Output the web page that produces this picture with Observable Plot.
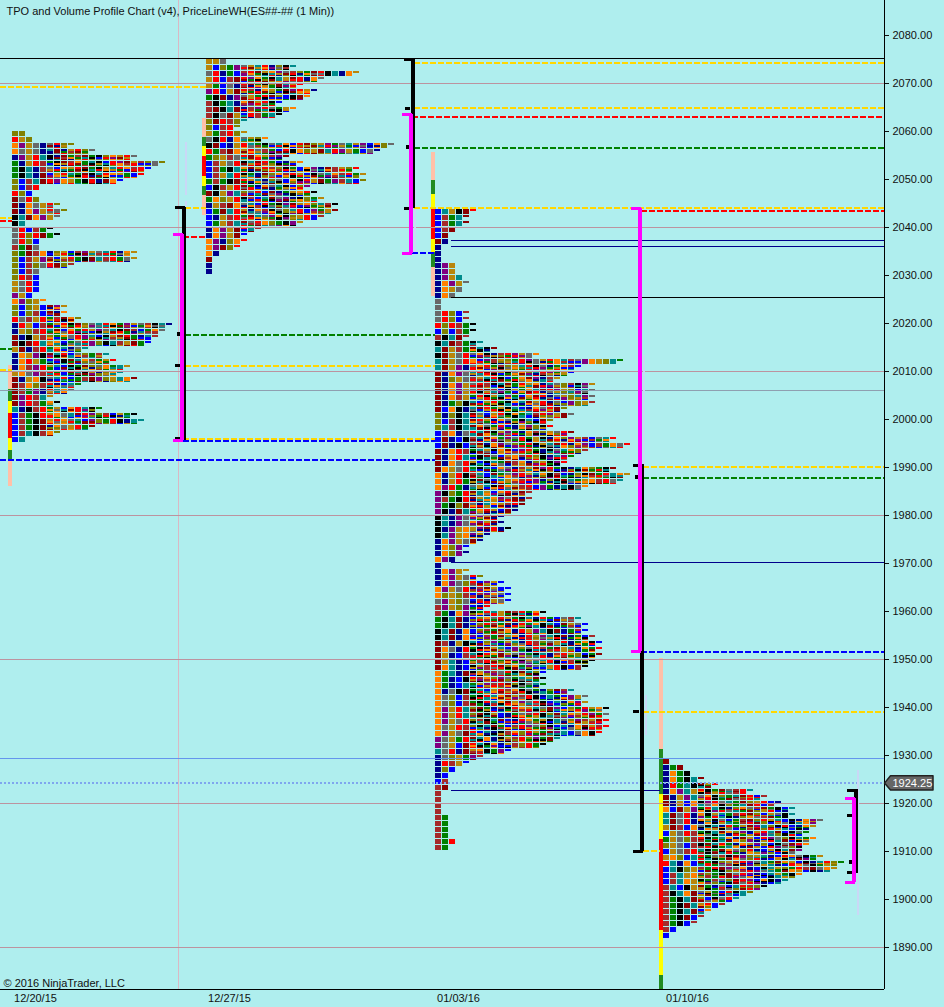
<!DOCTYPE html>
<html><head><meta charset="utf-8">
<script src="https://cdn.jsdelivr.net/npm/d3@7"></script>
<script src="https://cdn.jsdelivr.net/npm/@observablehq/plot@0.6"></script>
<style>html,body{margin:0;padding:0;background:#AFEEEE;overflow:hidden}svg{display:block;background:#AFEEEE}</style>
</head><body><div id="chart"></div>
<script>
// TPO rows: one string per price row, one letter per period letter
const week1Rows=["OO","RGO","APGYNYROO","AYGYNTMNGROY","NPGRTKNMVWMVKOAGRY","VNGRWVKMWAVTKBRPMGWOYO","VKTNWYBAGRMVKGTRAWRB","VKTNMBGRTVMKTRAGVBR","OBWTMRPAGVKRNMAB","OBWR","ROB","MYRO","MNAYGRO","MNAPGRYO","KTMAPGY","KT","YRBWVK","YRORMVK","YROB","WVMY","OVMWANOGBWPGYTRNAG","OBWGPWBGRVKMTWRVYG","OBWOYRMOW","OBWY","ORWB","GYRB","GYRB","PGB","APOGA","OBOGBMPG","OBOWBMNA","RYWGRVWMAO","NRGBWVGRKMOYTRAVPGYWKTN","NGOWRTMBAVRGPYTKMWBVAY","MNKGWOVAYRPTBKGMRVNTW","MKMRTGABVYRPOKTWGMVB","GMNWRVATNYT","NAGPKMTRBYOVWT","NARGVBPKMTAWVGR","NAWPRGTBKVMOYAVTG","GAYPWRVBMTKGNOAT","MNGAKYTRBVWMPOGTAM","MWAOWRNBTV","MWVPNRTAY","MPRWTG","MPRWVAK","TNKWRVGBARTKV","BWVKRGAYTMRPOWBGVK","BWVKMGRAYTBPOVRKNTT","BWVKMNAYGRVM","BWTKWAO","BT"];
const week2Rows=["GGY","GBOVPYGTRNOKT","YRNVBWRMGAPYWOVMRKTNAG","GRBWMRPAVKTGMRNAY","GVBYNRMVKOMTGR","PRBGMRWNAGVMPRGN","VKMNPYGVRMOBKMA","WKVTNAMGRKB","WMKTMNWPRYVGA","WKYMGBRWVTK","OMRWOT","OBWRO","GVWROG","YKRNAYGOA","KMBNGRTVKYTABRMOGPVYTGPBAOY","RVWMAGRYWVBRKAOGMTRPGVBYN","VOGWYRMAGWPM","BWGYRKTMRVBNGA","BWVKTAMGRWOKVBAPNMWGOR","BWGTRKVNMOAWRGBKYTAWRVG","VWVKMRGTNOYBAKRGMVPWTBO","BKWGRMVNAYTKBOP","MKGPTOYRBMNVGARK","VAOGRKWBTMYPNKOVG","NGWMAYTBRVKPMGAOTWK","BVMTRGNAWKYOTRBPVGM","BNGWRVMTYPAKOGRBW","BVGWTMYRAOVKPG","NAPGMRTW","NAPGMB","APNOAR","APMOR","AN","M","N","N"];
const week3Rows=["BTGKMR","BWVTM","BWVTM","BWM","BM","MN","N","N","N","NPG","NPG","NPGT","NAPGY","NAGY","NAY","Y","Y","YROBW","YROBW","RORWVK","BOBWVK","WKTMW","KTMWVKT","TMGWVMTKM","KMGYRYAKNWRPGYA","TMGYRABPWGOVRPYGRATWYPAGOTV","TMGPNYARVWOGTRKYNVAWB","MNAPYTRMWGKYAOTRPVGB","MNOGYWGTRKBVAMPNWG","MNAPGYRWKTMVRGANTYOWKPG","MNAPGYRMWBKGVATMRPGOBTY","MNAWGVRKGTPVBAMRNYGOTPY","MNVOKTBGRVKATMGRNYBPOGW","MBAKNTMRVGKTBNAYRMO","ONOKTMYBGRKAVTWRPGMY","OBWKTMRGNAYVKTBMO","OTWKTMAYVRBNGPOKR","BWANYRTMKGPVNAWOGYRM","BMNBKWTMAVPYRVGKNAOPGWBYTR","BMNKBWMNAPYOVRKGTMRNAPBWVAYR","MNARWVTGKAMBPRVNKYTAOW","MNARTVKMYBGAWROKNTPV","MNAYRGBKTVMWANOGKPR","MAGYRVKTBAYNWGMPRVKNTAOVKM","ANGRKWTBMVYPRGTAKWBNOKMVRTAG","ANGRVKMYBTGAWRPNOKMTVGAWRYT","APRVNYGTKMAGWRBPVNTKYA","PKOVRMTGBARYMW","PWVKRMGTAPYMNW","PVKOMYNTAGWRM","PKNMTVARGBMN","KTNPYAPGMN","KTNPYAPGMN","KNPGAGPMRNK","KTPGAPGN","NAPGYMN","NAOPB","NAOPN","APN","N","NAPGG","NAPGYRO","NAPYORBPGB","APGYRNWMGBB","AOGOWBWPAYB","YPGOYBWNGYB","WPGOPBNR","WVNAPKVRTGMWRVAK","VKTMNBOAYRGVKTNRVBYWT","VKTMNBORWVMNRVAKTBMGYB","KTMNABOWVMANRGPTKMNVWB","KTMNAPBWVMGANRGPTKMNVBW","MWNGKTBOPVGTNRWOYGRNVAKB","MAYNRVKMGTBPOYRWVMGTNAVR","MGNBWTKRAMGYPVKTNWRGOBVM","MGTNBVWROVMPKGYTRNAWVOK","MATNBKGWRMOAVPYTGRKBWK","AVTNMKGPWYRKMTOB","AVNBKRWAOPYVTGMK","AVNBTVGPWRMOKYTV","ANYKMVTBGRWAKYVNOMWT","AYOBWVKRTAMGWRKNTVBPGY","AYOBWVKRTAMGPYRKBTNAPG","APGRTOMVNWKRAGTYMPBOVRGAK","APGRTOMKGBNVYWRKOMTAGRPVY","APGYROWKTMBNRAVGKTYOPWGMR","AYGRWOKTMVBWRPYOKBTNAMGWR","APGYMRBTNKWAORGVMPTBYAKR","PYGVRMTANKGWROPVMT","PYGBMRTKANGWORVK","TYRNMGAKVPB","NYOGVPW","NRWGB","NOB","NB","BW","WM","W","W","W","W","WV","WV","WV","WV","WVR","WV"];
const week4Rows=["M","NVM","NAVK","NAVKTM","NRVTKMGR","NAPTGRKVMYWRT","MNGPTYAKOVTMRBW","MNGBAKPRYTVMOGRBN","ABMGPVRTKNOAYWMVKBT","TMYRNAKGTVWRMOBGYKT","TMYRNAGKYBVWMORGTBKNAPY","GMWBAYKTNRVGMPTOKRBNAG","BGYRWVKTMAOPNGRTMBKYV","VGYOWRKVTANMGBRPYOKTVA","OGYBWKMTRVNAGPOBKYMRA","BGYWRTKVMAYORNBGKTMP","GAOBTRVYWKMPOGTNBRAYKVG","RTNABMVKOGWRPYTVMAGBKNTROV","BTKOGWVRMPYANBKTGOVRWMYAG","BWTGAWOVKMYRPNBTGVKA","BWTAGKVWYOMRPBAKNT","WTBKGMVNYBTRWOK","WKTAMYGVBRKTO","WVKTMOBKYRT","WVKMTGRBW","WVKTMBA","WVKMBW","WVKBW","WB","B"];
const profileStartX=[12,206,435,663];
const profileTopPrice=[2060,2075,2043.75,1929.25];

// Day-value segments beside each profile
const segWeek1=[["peach",2011.25,2006.25],["green",2006.25,2003.75],["yellow",2003.75,2001.25],["red",2001.25,1996],["yellow",1996,1993.5],["green",1993.5,1991.5],["peach",1991.5,1986]];
const segWeek2=[["peach",2062.7,2058.75],["green",2058.75,2056.9],["yellow",2056.9,2054.8],["red",2054.8,2050.6],["yellow",2050.6,2048.5],["green",2048.5,2046.7],["peach",2046.7,2042.5]];
const segWeek3=[["peach",2055.6,2049.8],["green",2049.8,2046.9],["yellow",2046.9,2043.75],["red",2043.75,2037.5],["yellow",2037.5,2034.8],["green",2034.8,2031.7],["peach",2031.7,2025.6]];
const segWeek4=[["peach",1950.2,1931.25],["green",1931.25,1921.9],["yellow",1921.9,1912.5],["red",1912.5,1893.5],["yellow",1893.5,1884.2],["green",1884.2,1881.25]];
const segStartX=[8,202,431,659];

// Range bars [x, high, low]
const blackBars=[[183,2044.2,1995.6],[412,2075,2044],[641,1990.6,1910],[855,1922.9,1905.4]];
const magentaBars=[[181,2038.5,1995.6],[410,2063.5,2034.6],[639,2044,1951.7],[853,1921,1903.5]];
// Range bar caps [x1, x2, price]
const blackCaps=[[175,185,2044.2],[175,181,2011.25],[175,181,1996],[404,414,2075],[405,410,2064.8],[404,410,2044],[633,643,1990.4],[633,639,1939.2],[633,643,1910],[847,857,1922.8],[847,853,1917.5],[847,853,1905.6]];
const blackThickCaps=[[177,185,2017.9],[406,414,2056.7],[635,643,1988.1],[849,857,1907.9]];
const magentaCaps=[[173,183,2038.5],[173,183,1995.6],[402,412,2063.5],[402,412,2034.6],[631,641,2044],[631,641,1951.7],[845,855,1921],[845,855,1903.5]];

// Dashed levels [x1, x2, price]
const yellowLevels=[[0,206,2069.25],[414,884,2074.25],[414,884,2065],[185,206,2044],[414,884,2044],[185,435,2011.25],[183,435,1995.9],[643,884,1990.2],[643,884,1939.1],[643,660,1910.2],[0,12,2041.9],[0,12,2010.4]];
const redLevels=[[412,884,2063],[641,884,2043.5],[183,206,2038],[0,12,2041.4]];
const greenLevels=[[414,884,2056.5],[185,435,2017.6],[643,884,1987.9],[0,12,2014.6]];
const blueLevels=[[412,435,2034.6],[183,435,1995.5],[0,435,1991.5],[641,884,1951.6]];

// Solid levels
const navyLevels=[[451,884,2037.3],[451,884,2036],[451,884,1970.2],[451,660,1922.7]];
const blackLevels=[[0,884,2075.25],[451,884,2025.4]];
const rosyLevels=[2070,2040,2010,1980,1950,1920,1890];
const greyLevels=[2006];
const lightBlueLevels=[1929.4];
const lastPrice=1924.25;

// Faint per-bar volume strips [x, high, low]
const volumeStrips=[[185,2057.7,2046.7],[185,2045.5,2044.3],[414,2047.7,2034.2],[643,2013.3,1985.2],[645,1942.5,1934.2],[857,1926.9,1896.7]];

const priceTicks=[2080,2070,2060,2050,2040,2030,2020,2010,2000,1990,1980,1970,1960,1950,1940,1930,1920,1910,1900,1890];
const dateTickX=[35,229,458,687];
const dateLabels=["12/20/15","12/27/15","01/03/16","01/10/16"];
const sessionLineX=[178];

const palette={O:"#808000",R:"#ff0000",B:"#0000ff",N:"#00008b",W:"#a52a2a",A:"#ff8000",P:"#800080",G:"#b8860b",Y:"#696969",V:"#008000",T:"#008b8b",K:"#000000",M:"#8b0000"};
const segColors={peach:"#ffc0a8",green:"#228b22",yellow:"#ffff00",red:"#ff0000"};

const pxPerPoint=4.8, rowStep=1.25, colStep=7, cellW=6;
const cells=[], stripes=[];
[week1Rows,week2Rows,week3Rows,week4Rows].forEach((rows,pi)=>{
  rows.forEach((row,ri)=>{
    const top=profileTopPrice[pi]-ri*rowStep;
    const next=rows[ri+1]||row, prev=rows[ri-1]||row;
    [...row].forEach((k,c)=>{
      const x1=profileStartX[pi]+c*colStep, x2=x1+cellW;
      const tip=row.length>=5&&c===row.length-1;
      cells.push({x1,x2,y1:top,y2:top-(tip?2:5)/pxPerPoint,k});
      if(c>=5&&!tip){
        stripes.push({x1,x2,y1:top-2.2/pxPerPoint,y2:top-3.6/pxPerPoint,k:next[c+1]||next[c]||k});
        stripes.push({x1,x2,y1:top-3.6/pxPerPoint,y2:top-5/pxPerPoint,k:prev[c-1]||k});
      }
    });
  });
});
const segs=[segWeek1,segWeek2,segWeek3,segWeek4].flatMap((s,i)=>s.map(([k,y1,y2])=>({x1:segStartX[i],x2:segStartX[i]+4,y1,y2,k})));
const crisp={shapeRendering:"crispEdges"};
const level=(arr,stroke,extra={})=>Plot.ruleY(arr,{x1:d=>d[0],x2:d=>d[1],y:d=>d[2],stroke,...crisp,...extra});
const dashed={strokeWidth:2,strokeDasharray:"6,2"};
const tag=[[884,lastPrice],[890,1925.8],[932.5,1925.8],[932.5,1922.8],[890,1922.8],[884,lastPrice]];
const font="Liberation Sans, Arial, sans-serif";

const chart=Plot.plot({
  width:944,height:1007,marginLeft:0,marginRight:60,marginTop:0,marginBottom:18,
  style:{background:"#AFEEEE",fontFamily:font,fontSize:"11px",color:"#111"},
  x:{domain:[0,884],axis:null},
  y:{domain:[2080-954/pxPerPoint,2080+35/pxPerPoint],axis:null},
  color:{type:"identity"},
  marks:[
    Plot.ruleX(sessionLineX,{stroke:"#d9b8c4",...crisp}),
    Plot.rect(segs,{x1:"x1",x2:"x2",y1:"y1",y2:"y2",fill:d=>segColors[d.k],...crisp}),
    Plot.rect(cells,{x1:"x1",x2:"x2",y1:"y1",y2:"y2",fill:d=>palette[d.k],...crisp}),
    Plot.rect(stripes,{x1:"x1",x2:"x2",y1:"y1",y2:"y2",fill:d=>palette[d.k],...crisp}),
    Plot.ruleY(rosyLevels,{stroke:"#bc939f",strokeOpacity:1,...crisp}),
    Plot.ruleY(greyLevels,{stroke:"#8f9fb0",strokeOpacity:1,...crisp}),
    Plot.ruleY(lightBlueLevels,{stroke:"#6495ed",strokeOpacity:1,...crisp}),
    level(navyLevels,"#00008b"),
    level(blackLevels,"#000"),
    Plot.ruleY([lastPrice],{stroke:"#7fa6ee",strokeWidth:2,strokeDasharray:"2,2"}),
    Plot.ruleX(volumeStrips,{x:d=>d[0],y1:d=>d[1],y2:d=>d[2],stroke:"#c9d8f6",strokeWidth:2,...crisp}),
    level(yellowLevels,"#ffd700",dashed),
    level(greenLevels,"#008000",dashed),
    level(blueLevels,"#0000ff",dashed),
    level(redLevels,"#ff0000",dashed),
    Plot.ruleX(blackBars,{x:d=>d[0],y1:d=>d[1],y2:d=>d[2],stroke:"#000",strokeWidth:4,...crisp}),
    level(blackCaps,"#000",{strokeWidth:3}),
    level(blackThickCaps,"#000",{strokeWidth:4}),
    Plot.ruleX(magentaBars,{x:d=>d[0],y1:d=>d[1],y2:d=>d[2],stroke:"#ff00ff",strokeWidth:4,...crisp}),
    level(magentaCaps,"#ff00ff",{strokeWidth:3}),
    Plot.ruleX([884],{stroke:"#000",...crisp}),
    Plot.ruleY([2080-954/pxPerPoint],{stroke:"#000",...crisp}),
    Plot.axisY({anchor:"right",ticks:priceTicks,tickSize:4,tickPadding:4,tickFormat:d3.format(".2f"),label:null,fontSize:11}),
    Plot.axisX(dateTickX,{anchor:"bottom",tickSize:0,tickPadding:5,tickFormat:(d,i)=>dateLabels[i],label:null,fontSize:11}),
    Plot.text(["TPO and Volume Profile Chart (v4), PriceLineWH(ES##-## (1 Min))"],{frameAnchor:"top-left",dx:6,dy:7,textAnchor:"start",fontSize:11,fill:"#111"}),
    Plot.text(["© 2016 NinjaTrader, LLC"],{frameAnchor:"bottom-left",dx:3,dy:-3,textAnchor:"start",fontSize:11,fill:"#111"}),
    Plot.line(tag,{x:d=>d[0],y:d=>d[1],fill:"#666",stroke:"#222"}),
    Plot.text([lastPrice],{x:892,y:lastPrice,text:d=>d3.format(".2f")(d),textAnchor:"start",fontSize:11,fill:"#fff"})
  ]
});
document.getElementById("chart").append(chart);
</script></body></html>
